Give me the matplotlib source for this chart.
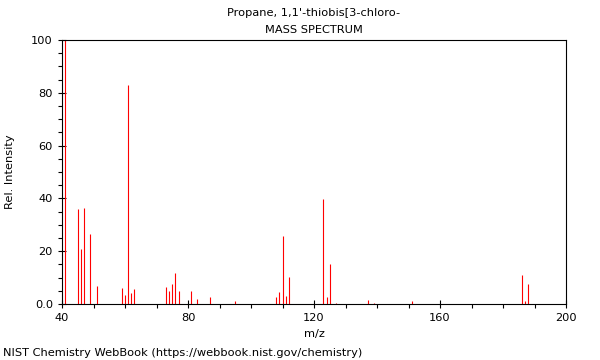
import matplotlib
matplotlib.use("Agg")
import matplotlib.pyplot as plt
from matplotlib.ticker import MultipleLocator

# Propane, 1,1'-thiobis[3-chloro- : peaks
mz = [41, 45, 46, 47, 49, 51, 59, 60, 61, 62, 63, 73, 74, 75, 76, 77,
      81, 83, 87, 95, 108, 109, 110, 111, 112, 123, 124, 125, 127,
      137, 139, 151, 186, 187, 188]
intensity = [100, 36, 21, 36.5, 26.5, 7, 5.9, 3.4, 83, 4, 5.7, 6.6, 5, 7.6, 11.6, 5,
             4.8, 1.8, 2.5, 1.2, 2.5, 4.6, 25.7, 3.1, 10.1, 39.6, 2.5, 15.1, 0.3,
             1.7, 0.5, 1.2, 10.8, 1.3, 7.4]

x_ticks = [40, 80, 120, 160, 200]
y_ticks = [0, 20, 40, 60, 80, 100]
y_tick_labels = ["0.0", "20", "40", "60", "80", "100"]

plt.rcParams['font.family'] = ['DejaVu Sans']
fs = 8.2

fig = plt.figure(figsize=(6, 3.6), dpi=100)
ax = fig.add_axes([62 / 600, 1 - 304 / 360, 504 / 600, 264 / 360])

ax.vlines(mz, 0, intensity, colors='#ff0000', linewidth=0.8)

ax.set_xlim(40, 200)
ax.set_ylim(0, 100)
ax.set_xticks(x_ticks)
ax.set_yticks(y_ticks)
ax.set_yticklabels(y_tick_labels)
ax.xaxis.set_minor_locator(MultipleLocator(10))
ax.yaxis.set_minor_locator(MultipleLocator(5))
ax.tick_params(which='major', direction='inout', length=6, width=0.8, labelsize=fs)
ax.tick_params(which='minor', direction='out', length=3, width=0.8)
for s in ax.spines.values():
    s.set_linewidth(0.8)

ax.set_xlabel("m/z", fontsize=fs, labelpad=4)
ax.set_ylabel("Rel. Intensity", fontsize=fs, labelpad=12)

fig.text(314 / 600, 1 - 13 / 360, "Propane, 1,1'-thiobis[3-chloro-", ha='center', va='center', fontsize=fs)
fig.text(314 / 600, 1 - 30 / 360, "MASS SPECTRUM", ha='center', va='center', fontsize=fs)
fig.text(3 / 600, 1 - 353 / 360, "NIST Chemistry WebBook (https://webbook.nist.gov/chemistry)",
         ha='left', va='center', fontsize=fs)

fig.savefig("out.png", dpi=100)
